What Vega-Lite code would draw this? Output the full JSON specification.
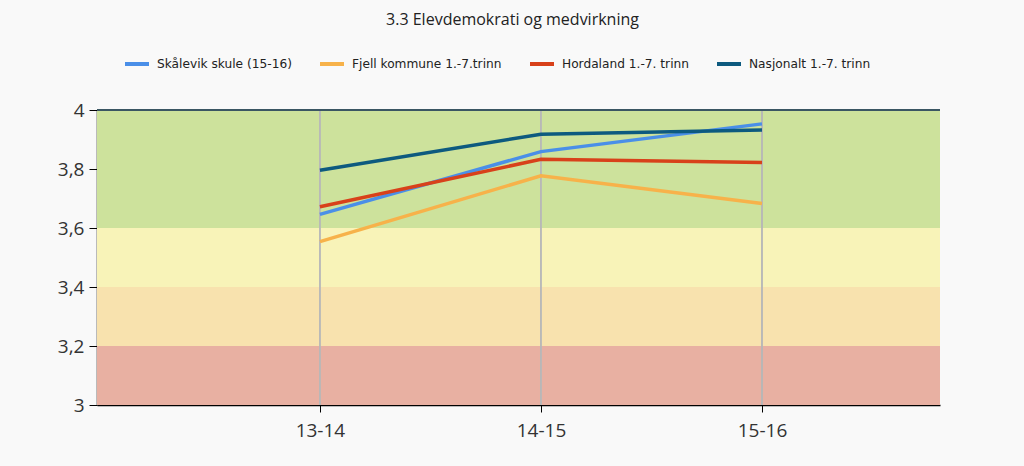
{
  "$schema": "https://vega.github.io/schema/vega-lite/v6.json",
  "width": 843,
  "height": 295,
  "autosize": {"type": "none"},
  "padding": {"left": 97, "top": 110, "right": 84, "bottom": 61},
  "background": "#f9f9f9",
  "title": {
    "text": "3.3 Elevdemokrati og medvirkning",
    "anchor": "middle",
    "fontSize": 16,
    "fontWeight": "normal",
    "font": "Open Sans",
    "color": "#222222",
    "offset": 22,
    "dx": -6
  },
  "config": {
    "view": {"stroke": null},
    "font": "Open Sans",
    "axis": {"labelFont": "Open Sans", "labelColor": "#333333", "domainColor": "#000000", "tickColor": "#000000", "title": null, "grid": false},
    "legend": {"labelFont": "DejaVu Sans"}
  },
  "datasets": {
    "series": [
      {"year": "13-14", "series": "Skålevik skule (15-16)", "value": 3.646},
      {"year": "14-15", "series": "Skålevik skule (15-16)", "value": 3.859},
      {"year": "15-16", "series": "Skålevik skule (15-16)", "value": 3.953},
      {"year": "13-14", "series": "Fjell kommune 1.-7.trinn", "value": 3.554},
      {"year": "14-15", "series": "Fjell kommune 1.-7.trinn", "value": 3.777},
      {"year": "15-16", "series": "Fjell kommune 1.-7.trinn", "value": 3.683},
      {"year": "13-14", "series": "Hordaland 1.-7. trinn", "value": 3.672},
      {"year": "14-15", "series": "Hordaland 1.-7. trinn", "value": 3.833},
      {"year": "15-16", "series": "Hordaland 1.-7. trinn", "value": 3.822},
      {"year": "13-14", "series": "Nasjonalt 1.-7. trinn", "value": 3.796},
      {"year": "14-15", "series": "Nasjonalt 1.-7. trinn", "value": 3.918},
      {"year": "15-16", "series": "Nasjonalt 1.-7. trinn", "value": 3.932}
    ],
    "bands": [
      {"band": "red", "lo": 3.0, "hi": 3.2},
      {"band": "orange", "lo": 3.2, "hi": 3.4},
      {"band": "yellow", "lo": 3.4, "hi": 3.6},
      {"band": "green", "lo": 3.6, "hi": 4.0}
    ]
  },
  "layer": [
    {
      "data": {"name": "bands"},
      "mark": {"type": "rect"},
      "encoding": {
        "y": {"field": "lo", "type": "quantitative", "scale": {"domain": [3, 4], "nice": false, "zero": false},
              "axis": {"values": [3, 3.2, 3.4, 3.6, 3.8, 4], "format": ".1~f", "labelExpr": "replace(datum.label, '.', ',')", "labelFontSize": 19, "tickSize": 8, "labelPadding": 5, "domainWidth": 1.5}},
        "y2": {"field": "hi"},
        "fill": {"field": "band", "type": "nominal",
                 "scale": {"domain": ["red", "orange", "yellow", "green"], "range": ["#e8b0a2", "#f8e2ae", "#f8f3b8", "#cde29c"]},
                 "legend": null}
      }
    },
    {
      "data": {"name": "series"},
      "mark": {"type": "rule", "color": "#b8b8b8", "strokeWidth": 1},
      "encoding": {
        "x": {"field": "year", "type": "ordinal"}
      }
    },
    {
      "data": {"name": "series"},
      "mark": {"type": "rule", "color": "#3a5663", "strokeWidth": 2},
      "encoding": {"y": {"datum": 4}}
    },
    {
      "data": {"name": "series"},
      "mark": {"type": "line", "strokeWidth": 3.5},
      "encoding": {
        "x": {"field": "year", "type": "ordinal",
              "scale": {"type": "point", "padding": 0.907, "align": 0.556},
              "axis": {"labelAngle": 0, "labelAlign": "center", "labelBaseline": "top", "labelFontSize": 19, "tickSize": 7, "labelPadding": 9, "domainWidth": 1.5}},
        "y": {"field": "value", "type": "quantitative"},
        "color": {"field": "series", "type": "nominal",
                  "scale": {"domain": ["Skålevik skule (15-16)", "Fjell kommune 1.-7.trinn", "Hordaland 1.-7. trinn", "Nasjonalt 1.-7. trinn"],
                            "range": ["#4a8fe8", "#f7b24a", "#d8411a", "#0d5a7f"]},
                  "legend": {"orient": "none", "legendX": 26, "legendY": -60, "direction": "horizontal", "title": null,
                             "symbolType": "stroke", "symbolStrokeWidth": 4, "symbolSize": 576, "labelFontSize": 12.2,
                             "labelColor": "#222222", "columnPadding": 20, "labelOffset": 6}}
      }
    }
  ]
}
